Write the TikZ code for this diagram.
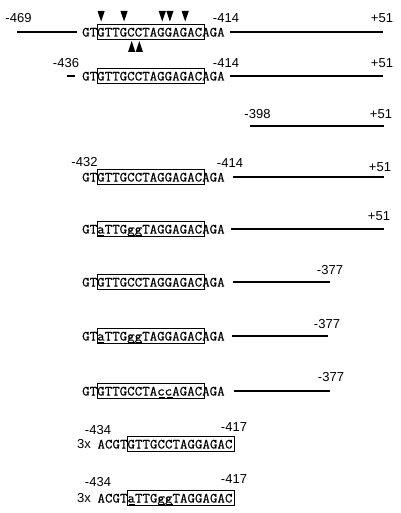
\documentclass[tikz,border=0pt]{standalone}
\usepackage{fontspec}
\setmainfont{Liberation Sans}
\newfontfamily\seqf[FakeStretch=1.04,FakeBold=0.6]{Latin Modern Mono}
\begin{document}
\begin{tikzpicture}[x=1pt,y=-1pt,
 lab/.style={font=\fontsize{13}{13}\selectfont, inner sep=0},
 seq/.style={font=\seqf\fontsize{14}{14}\selectfont, inner sep=0, anchor=base west},
 dna/.style={line width=1.6pt},
 cbox/.style={draw, line width=0.9pt},
 ul/.style={line width=0.7pt},
 tri/.style={fill=black}]
\useasboundingbox (0,0) rectangle (400,513);
\def\cw{7.644}
% ---------- row 1 ----------
\node[lab] (r1a) at (18.5,18) {-469};
\node[lab] (r1b) at (226,18) {-414};
\node[lab] (r1c) at (382,18) {+51};
\node[seq] (s1) at (82,36.5) {GTGTTGCCTAGGAGACAGA};
\draw[cbox] ({82+2*\cw},24) rectangle ({82+16*\cw},39);
\coordinate (l1a) at (17,32); \coordinate (l1b) at (77,32);
\coordinate (l1c) at (230,32); \coordinate (l1d) at (383,32);
\draw[dna] (l1a) -- (l1b);
\draw[dna] (l1c) -- (l1d);
\foreach \i in {0,3,8,9,11}
  \fill[tri] ({82+(2+\i+0.5)*\cw-3.6},11) -- ({82+(2+\i+0.5)*\cw+3.6},11) -- ({82+(2+\i+0.5)*\cw},21.5) -- cycle;
\foreach \i in {4,5}
  \fill[tri] ({82+(2+\i+0.5)*\cw-3.6},52) -- ({82+(2+\i+0.5)*\cw+3.6},52) -- ({82+(2+\i+0.5)*\cw},41) -- cycle;
% ---------- row 2 ----------
\node[lab] (r2a) at (66,63) {-436};
\node[lab] (r2b) at (226,63) {-414};
\node[lab] (r2c) at (382,63) {+51};
\node[seq] (s2) at (82,80.5) {GTGTTGCCTAGGAGACAGA};
\draw[cbox] ({82+2*\cw},68) rectangle ({82+16*\cw},83);
\coordinate (l2a) at (67,76); \coordinate (l2b) at (75,76);
\coordinate (l2c) at (230,76); \coordinate (l2d) at (383,76);
\draw[dna] (l2a) -- (l2b);
\draw[dna] (l2c) -- (l2d);
% ---------- row 3 ----------
\node[lab] (r3a) at (257.5,114) {-398};
\node[lab] (r3c) at (381,114) {+51};
\coordinate (l3a) at (250,126); \coordinate (l3b) at (384,126);
\draw[dna] (l3a) -- (l3b);
% ---------- row 4 ----------
\node[lab] (r4a) at (84.5,162) {-432};
\node[lab] (r4b) at (230,163) {-414};
\node[lab] (r4c) at (380,167) {+51};
\node[seq] (s4) at (82,181.5) {GTGTTGCCTAGGAGACAGA};
\draw[cbox] ({82+2*\cw},169) rectangle ({82+16*\cw},184);
\coordinate (l4a) at (233,177); \coordinate (l4b) at (384,177);
\draw[dna] (l4a) -- (l4b);
% ---------- row 5 ----------
\node[lab] (r5c) at (379,216) {+51};
\node[seq] (s5) at (82,233.5) {GTaTTGggTAGGAGACAGA};
\draw[cbox] ({82+2*\cw},221) rectangle ({82+16*\cw},236);
\foreach \i in {2,6,7}
  \draw[ul] ({82+\i*\cw+0.8},235.8) -- ({82+(\i+1)*\cw-0.8},235.8);
\coordinate (l5a) at (231,229); \coordinate (l5b) at (384,229);
\draw[dna] (l5a) -- (l5b);
% ---------- row 6 ----------
\node[lab] (r6c) at (330,270) {-377};
\node[seq] (s6) at (82,286.5) {GTGTTGCCTAGGAGACAGA};
\draw[cbox] ({82+2*\cw},274) rectangle ({82+16*\cw},289);
\coordinate (l6a) at (233,282); \coordinate (l6b) at (330,282);
\draw[dna] (l6a) -- (l6b);
% ---------- row 7 ----------
\node[lab] (r7c) at (327,324) {-377};
\node[seq] (s7) at (82,340.5) {GTaTTGggTAGGAGACAGA};
\draw[cbox] ({82+2*\cw},328) rectangle ({82+16*\cw},343);
\foreach \i in {2,6,7}
  \draw[ul] ({82+\i*\cw+0.8},342.8) -- ({82+(\i+1)*\cw-0.8},342.8);
\coordinate (l7a) at (232,336); \coordinate (l7b) at (328,336);
\draw[dna] (l7a) -- (l7b);
% ---------- row 8 ----------
\node[lab] (r8c) at (331,377) {-377};
\node[seq] (s8) at (82,395.5) {GTGTTGCCTAccAGACAGA};
\draw[cbox] ({82+2*\cw},383) rectangle ({82+16*\cw},398);
\foreach \i in {10,11}
  \draw[ul] ({82+\i*\cw+0.8},397.8) -- ({82+(\i+1)*\cw-0.8},397.8);
\coordinate (l8a) at (234,391); \coordinate (l8b) at (330,391);
\draw[dna] (l8a) -- (l8b);
% ---------- row 9 ----------
\node[lab] (r9a) at (98,430.5) {-434};
\node[lab] (r9b) at (234,427) {-417};
\node[lab, anchor=base west] (x9) at (77,448.5) {3x};
\node[seq] (s9) at (97.3,448.5) {ACGTGTTGCCTAGGAGAC};
\draw[cbox] ({97.3+4*\cw},436) rectangle ({97.3+18*\cw},451);
% ---------- row 10 ----------
\node[lab] (r10a) at (98,482) {-434};
\node[lab] (r10b) at (234,479) {-417};
\node[lab, anchor=base west] (x10) at (77,502.5) {3x};
\node[seq] (s10) at (97.3,502.5) {ACGTaTTGggTAGGAGAC};
\draw[cbox] ({97.3+4*\cw},490) rectangle ({97.3+18*\cw},505);
\foreach \i in {4,8,9}
  \draw[ul] ({97.3+\i*\cw+0.8},504.8) -- ({97.3+(\i+1)*\cw-0.8},504.8);
\end{tikzpicture}
\end{document}
